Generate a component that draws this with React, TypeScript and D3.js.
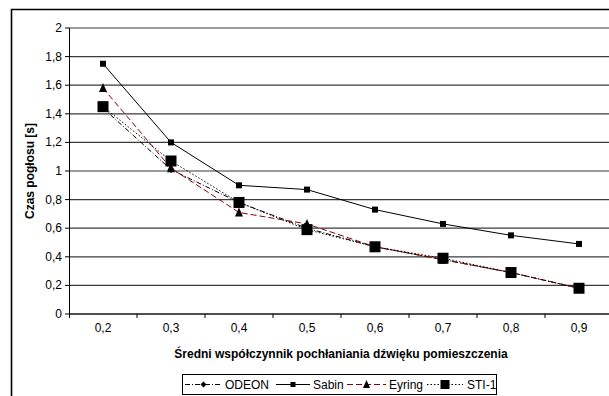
import React from "react";
import * as d3 from "d3";

const categories = ["0,2", "0,3", "0,4", "0,5", "0,6", "0,7", "0,8", "0,9"];
const odeon = [1.44, 1.01, 0.78, 0.6, 0.47, 0.38, 0.29, 0.18];
const sabin = [1.75, 1.2, 0.9, 0.87, 0.73, 0.63, 0.55, 0.49];
const eyring = [1.58, 1.02, 0.71, 0.63, 0.47, 0.38, 0.29, 0.18];
const sti1 = [1.45, 1.07, 0.78, 0.59, 0.47, 0.39, 0.29, 0.18];
const yTicks = [0, 0.2, 0.4, 0.6, 0.8, 1, 1.2, 1.4, 1.6, 1.8, 2];

const series = [
  { name: "ODEON", values: odeon, color: "#000", dash: "5,2,1,2", marker: "diamond", size: 3.5, lsize: 3 },
  { name: "Sabin", values: sabin, color: "#000", dash: "", marker: "square", size: 3, lsize: 2.5 },
  { name: "Eyring", values: eyring, color: "#8b0000", dash: "6,3", marker: "triangle", size: 4, lsize: 3.5 },
  { name: "STI-1", values: sti1, color: "#000", dash: "1.5,2", marker: "square", size: 5.5, lsize: 4.5 },
];

function Marker({ type, x, y, s }: { type: string; x: number; y: number; s: number }) {
  if (type === "square") return <rect x={x - s} y={y - s} width={2 * s} height={2 * s} fill="#000" />;
  if (type === "diamond")
    return <path d={`M${x},${y - s}L${x + s},${y}L${x},${y + s}L${x - s},${y}Z`} fill="#000" />;
  return <path d={`M${x},${y - s - 1}L${x + s},${y + s}L${x - s},${y + s}Z`} fill="#000" />;
}

export default function App() {
  const W = 609, H = 396;
  const left = 69, right = 613, top = 28, bottom = 314;
  const x = d3.scaleBand().domain(categories).range([left, right]);
  const y = d3.scaleLinear().domain([0, 2]).range([bottom, top]);
  const cx = (i: number) => (x(categories[i]) as number) + x.bandwidth() / 2;
  const line = d3
    .line<number>()
    .x((_, i) => cx(i))
    .y((d) => y(d));
  const font = "'Liberation Sans', Arial, sans-serif";
  const legendItems = [
    { s: series[0], x1: 185, x2: 222, tx: 225 },
    { s: series[1], x1: 276, x2: 310, tx: 313 },
    { s: series[2], x1: 347, x2: 386, tx: 389 },
    { s: series[3], x1: 427, x2: 463, tx: 467 },
  ];
  return (
    <>
      <style>{`html,body{margin:0;padding:0;overflow:hidden}#root{width:${W}px;height:${H}px}`}</style>
      <svg width={W} height={H} style={{ display: "block" }} fontFamily={font}>
        <rect x={0} y={0} width={W} height={H} fill="#fff" />
        <path d={`M11.5,${H}V9.5H${W}`} fill="none" stroke="#000" strokeWidth={1.6} />
        {yTicks.map((t) => (
          <g key={t}>
            <line x1={left} x2={W} y1={y(t)} y2={y(t)} stroke="#3a3a3a" strokeWidth={1.2} />
            <line x1={left - 4} x2={left} y1={y(t)} y2={y(t)} stroke="#000" />
            <text x={left - 7} y={y(t) + 4} textAnchor="end" fontSize={12} fill="#000">
              {String(t).replace(".", ",")}
            </text>
          </g>
        ))}
        <line x1={left + 0.5} x2={left + 0.5} y1={top} y2={bottom + 4} stroke="#000" />
        <line x1={left} x2={W} y1={bottom} y2={bottom} stroke="#000" />
        {categories.map((c, i) => (
          <g key={c}>
            <line
              x1={(x(c) as number) + x.bandwidth()}
              x2={(x(c) as number) + x.bandwidth()}
              y1={bottom}
              y2={bottom + 4}
              stroke="#000"
            />
            <text x={cx(i)} y={332} textAnchor="middle" fontSize={12} fill="#000">
              {c}
            </text>
          </g>
        ))}
        <text x={341} y={358} textAnchor="middle" fontSize={12} fontWeight="bold" fill="#000">
          Średni współczynnik pochłaniania dźwięku pomieszczenia
        </text>
        <text
          transform={`translate(34,${(top + bottom) / 2}) rotate(-90)`}
          textAnchor="middle"
          fontSize={12}
          fontWeight="bold"
          fill="#000"
        >
          Czas pogłosu [s]
        </text>
        {series.map((s) => (
          <g key={s.name}>
            <path
              d={line(s.values) || ""}
              fill="none"
              stroke={s.color}
              strokeWidth={1}
              strokeDasharray={s.dash || undefined}
            />
            {s.values.map((v, i) => (
              <Marker key={i} type={s.marker} x={cx(i)} y={y(v)} s={s.size} />
            ))}
          </g>
        ))}
        <rect x={182.5} y={374.5} width={314} height={20} fill="#fff" stroke="#000" />
        {legendItems.map(({ s, x1, x2, tx }) => (
          <g key={s.name}>
            <line x1={x1} x2={x2} y1={384.5} y2={384.5} stroke={s.color} strokeDasharray={s.dash || undefined} />
            <Marker type={s.marker} x={(x1 + x2) / 2} y={384.5} s={s.lsize} />
            <text x={tx} y={389} fontSize={12} fill="#000">
              {s.name}
            </text>
          </g>
        ))}
      </svg>
    </>
  );
}
